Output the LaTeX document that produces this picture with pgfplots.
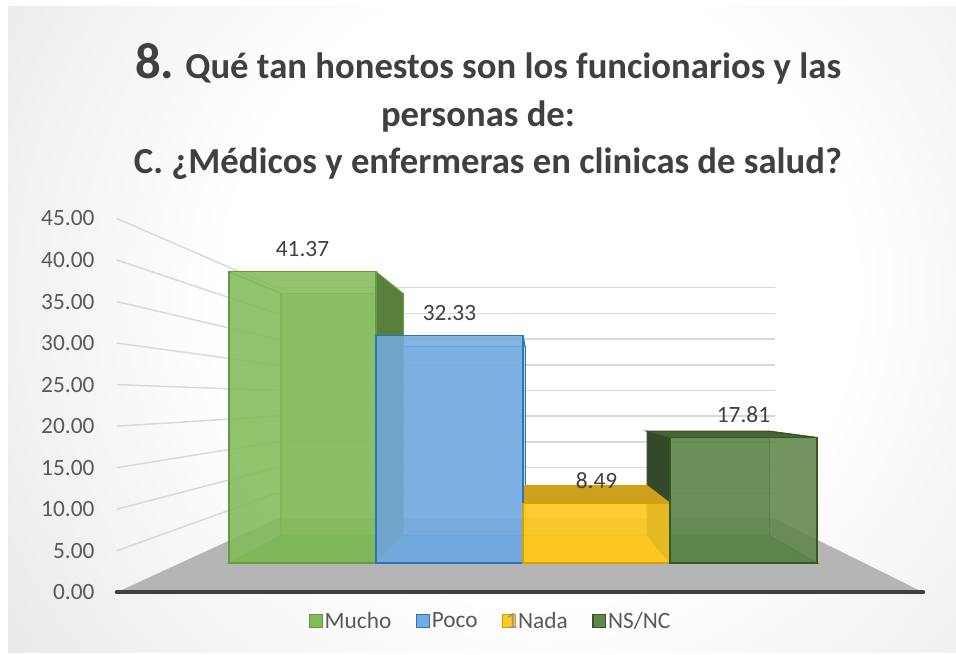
\documentclass[border=0pt]{standalone}
\usepackage{pgfplots}
\pgfplotsset{compat=1.18}
\usepackage{pgfplotstable}
\usepackage{fontspec}
\setmainfont{Carlito}

\definecolor{bggray}{RGB}{203,203,203}
\definecolor{gridc}{RGB}{217,217,217}
\definecolor{floorc}{RGB}{181,181,181}
\definecolor{axisc}{RGB}{64,64,64}
\definecolor{titlec}{RGB}{64,64,64}
\definecolor{tickc}{RGB}{89,89,89}
\definecolor{glitch}{RGB}{150,150,150}
\definecolor{muchoF}{RGB}{130,187,90}
\definecolor{muchoE}{RGB}{100,155,62}
\definecolor{muchoS}{RGB}{88,128,60}
\definecolor{muchoB}{RGB}{112,165,75}
\definecolor{pocoF}{RGB}{116,172,225}
\definecolor{pocoE}{RGB}{46,117,182}
\definecolor{pocoB}{RGB}{98,150,205}
\definecolor{nadaF}{RGB}{255,202,35}
\definecolor{nadaE}{RGB}{214,160,0}
\definecolor{nadaT}{RGB}{205,160,30}
\definecolor{nadaB}{RGB}{240,185,20}
\definecolor{nsF}{RGB}{95,135,75}
\definecolor{nsE}{RGB}{55,86,35}
\definecolor{nsS}{RGB}{52,72,42}
\definecolor{nsT}{RGB}{70,100,55}
\definecolor{nsB}{RGB}{82,118,62}

\pgfdeclareradialshading{bgshade}{\pgfpoint{0bp}{0bp}}{color(0bp)=(white); color(7bp)=(white); color(25bp)=(bggray); color(50bp)=(bggray)}

\pgfplotstableread{
x v
0 41.37
}\tMucho
\pgfplotstableread{
x v
1 32.33
}\tPoco
\pgfplotstableread{
x v
2 8.49
}\tNada
\pgfplotstableread{
x v
3 17.81
}\tNSNC

\pgfplotsset{
  base/.style={scale only axis, enlargelimits=false, xmin=-0.83, xmax=3.82,
    ymin=0, ymax=45, clip=false, axis line style={draw=none}, xtick=\empty,
    ytick=\empty, anchor=south west, tick style={draw=none}},
  frontpos/.style={at={(135.37pt,69.0pt)}, width=512.66pt, height=237.6pt},
  sqleg/.style={legend image code/.code={\draw[##1, fill opacity=1, draw opacity=1, line width=0.9pt] (0pt,-4.6pt) rectangle (9.4pt,4.8pt);}},
}

\newcommand\corners[4]{%
  \coordinate (#1bl) at (axis cs:#2,0);
  \coordinate (#1br) at (axis cs:#3,0);
  \coordinate (#1tl) at (axis cs:#2,#4);
  \coordinate (#1tr) at (axis cs:#3,#4);}

\begin{document}
\pgfplotstablegetelem{0}{v}\of\tMucho \let\vA\pgfplotsretval
\pgfplotstablegetelem{0}{v}\of\tPoco \let\vB\pgfplotsretval
\pgfplotstablegetelem{0}{v}\of\tNada \let\vC\pgfplotsretval
\pgfplotstablegetelem{0}{v}\of\tNSNC \let\vD\pgfplotsretval
\begin{tikzpicture}
\useasboundingbox (0,0) rectangle (717pt,491.25pt);
\fill[white] (0,0) rectangle (717pt,491.25pt);
\begin{scope}
  \clip (6pt,1.5pt) rectangle (717pt,486pt);
  \shade[shading=bgshade] (405pt,273.75pt) circle (840pt);
\end{scope}

% title
\node[anchor=base, text=titlec, inner sep=0pt, font=\bfseries\fontsize{27.5}{33}\selectfont] at (366pt,432pt)
  {{\fontsize{38}{46}\selectfont 8.} Qué tan honestos son los funcionarios y las};
\node[anchor=base, text=titlec, inner sep=0pt, font=\bfseries\fontsize{27.5}{33}\selectfont] at (358.5pt,396pt)
  {personas de:};
\node[anchor=base, text=titlec, inner sep=0pt, font=\bfseries\fontsize{27.5}{33}\selectfont] at (366pt,360.75pt)
  {C. ¿Médicos y enfermeras en clinicas de salud?};

% back wall
\begin{axis}[base, at={(207.16pt,102.01pt)}, width=374.25pt, height=173.45pt,
  ytick={0,5,...,45}, yticklabels={}, ymajorgrids, grid style={gridc, line width=1.1pt}]
  \pgfplotsinvokeforeach{0,5,...,45}{\coordinate (W#1) at (axis cs:-0.83,#1);}
  \coordinate (W0r) at (axis cs:3.82,0);
\end{axis}

% value labels (front plane)
\begin{axis}[base, at={(87.51pt,47.0pt)}, width=604.9pt, height=280.4pt,
  ytick={0,5,...,45},
  /pgf/number format/fixed, /pgf/number format/fixed zerofill,
  /pgf/number format/precision=2, /pgf/number format/assume math mode=true,
  yticklabel style={font=\fontsize{17.5}{21}\selectfont, text=tickc, anchor=east, inner sep=0pt, xshift=-16.5pt}]
  \pgfplotsinvokeforeach{0,5,...,45}{\coordinate (L#1) at (axis cs:-0.83,#1);}
  \coordinate (L0r) at (axis cs:3.82,0);
\end{axis}

\fill[floorc] (L0) -- (W0) -- (W0r) -- (L0r) -- cycle;
\foreach \v in {5,10,...,45} \draw[gridc, line width=1.1pt] (L\v) -- (W\v);
\draw[axisc, line width=3pt, line cap=round] (L0) -- (L0r);

% back faces
\begin{axis}[base, at={(180.57pt,89.78pt)}, width=425.51pt, height=197.21pt]
  \addplot[ybar, bar width=1, bar shift=0pt, fill=muchoF, fill opacity=0.4, draw=muchoE, line width=0.8pt] table[x=x,y=v]{\tMucho};
  \addplot[ybar, bar width=1, bar shift=0pt, fill=pocoF, fill opacity=0.4, draw=pocoE, line width=0.8pt] table[x=x,y=v]{\tPoco};
  \addplot[ybar, bar width=1, bar shift=0pt, fill=nadaF, fill opacity=0.4, draw=nadaE, line width=0.8pt] table[x=x,y=v]{\tNada};
  \addplot[ybar, bar width=1, bar shift=0pt, fill=nsF, fill opacity=0.4, draw=nsE, line width=0.8pt] table[x=x,y=v]{\tNSNC};
  \corners{B0}{-0.5}{0.5}{\vA}
  \corners{B1}{0.5}{1.5}{\vB}
  \corners{B2}{1.5}{2.5}{\vC}
  \corners{B3}{2.5}{3.5}{\vD}
\end{axis}

% front plane corners (same axis as the front faces)
\begin{axis}[base, frontpos]
  \corners{F0}{-0.5}{0.5}{\vA}
  \corners{F1}{0.5}{1.5}{\vB}
  \corners{F2}{1.5}{2.5}{\vC}
  \corners{F3}{2.5}{3.5}{\vD}
\end{axis}

% bottom faces
\filldraw[fill=muchoB, draw=muchoE, line width=0.8pt] (F0bl) -- (F0br) -- (B0br) -- (B0bl) -- cycle;
\filldraw[fill=pocoB, draw=pocoE, line width=0.8pt] (F1bl) -- (F1br) -- (B1br) -- (B1bl) -- cycle;
\filldraw[fill=nadaB, draw=nadaE, line width=0.8pt] (F2bl) -- (F2br) -- (B2br) -- (B2bl) -- cycle;
\filldraw[fill=nsB, draw=nsE, line width=0.8pt] (F3bl) -- (F3br) -- (B3br) -- (B3bl) -- cycle;
% connecting edges
\draw[muchoE, line width=0.8pt] (F0tl) -- (B0tl);
\draw[pocoE, line width=0.8pt] (F1tl) -- (B1tl) (F1tr) -- (B1tr);
% visible side / top faces
\filldraw[fill=muchoS, draw=muchoE, line width=0.8pt] (F0tr) -- (B0tr) -- (B0br) -- (F0br) -- cycle;
\filldraw[fill=nsS, draw=nsE, line width=0.8pt] (F3tl) -- (B3tl) -- (B3bl) -- (F3bl) -- cycle;
\filldraw[fill=nadaT, draw=nadaE, line width=0.8pt] (F2tl) -- (F2tr) -- (B2tr) -- (B2tl) -- cycle;
\filldraw[fill=nsT, draw=nsE, line width=0.8pt] (F3tl) -- (F3tr) -- (B3tr) -- (B3tl) -- cycle;
\draw[nsE, line width=0.8pt] (F3tr) -- (B3tr);

% front faces
\begin{axis}[base, frontpos,
  nodes near coords,
  every node near coord/.append style={font=\fontsize{17.5}{21}\selectfont, text=titlec,
     anchor=center, yshift=17pt, text opacity=1, fill opacity=1},
  /pgf/number format/fixed, /pgf/number format/fixed zerofill,
  /pgf/number format/precision=2, /pgf/number format/assume math mode=true,
  legend style={at={(0.4538,-0.183)}, anchor=center, draw=none, fill=none,
     legend columns=4, font=\fontsize{17.5}{21}\selectfont, text=tickc,
     nodes={inner xsep=1.5pt},
     /tikz/every even column/.append style={column sep=17pt}},
  ]
  \addplot[ybar, sqleg, bar width=1, bar shift=0pt, fill=muchoF, fill opacity=0.88, draw=muchoE, line width=1pt] table[x=x,y=v]{\tMucho};
  \addlegendentry{Mucho}
  \addplot[ybar, sqleg, bar width=1, bar shift=0pt, fill=pocoF, fill opacity=0.88, draw=pocoE, line width=1pt] table[x=x,y=v]{\tPoco};
  \addlegendentry{Poco}
  \addplot[ybar, sqleg, bar width=1, bar shift=0pt, fill=nadaF, fill opacity=0.88, draw=nadaE, line width=1pt] table[x=x,y=v]{\tNada};
  \addlegendentry{\makebox[0pt][r]{\textcolor{glitch}{1}\hspace{0.3pt}}Nada}
  \addplot[ybar, sqleg, bar width=1, bar shift=0pt, fill=nsF, fill opacity=0.88, draw=nsE, line width=1pt] table[x=x,y=v]{\tNSNC};
  \addlegendentry{NS/NC}
\end{axis}
\end{tikzpicture}
\end{document}
